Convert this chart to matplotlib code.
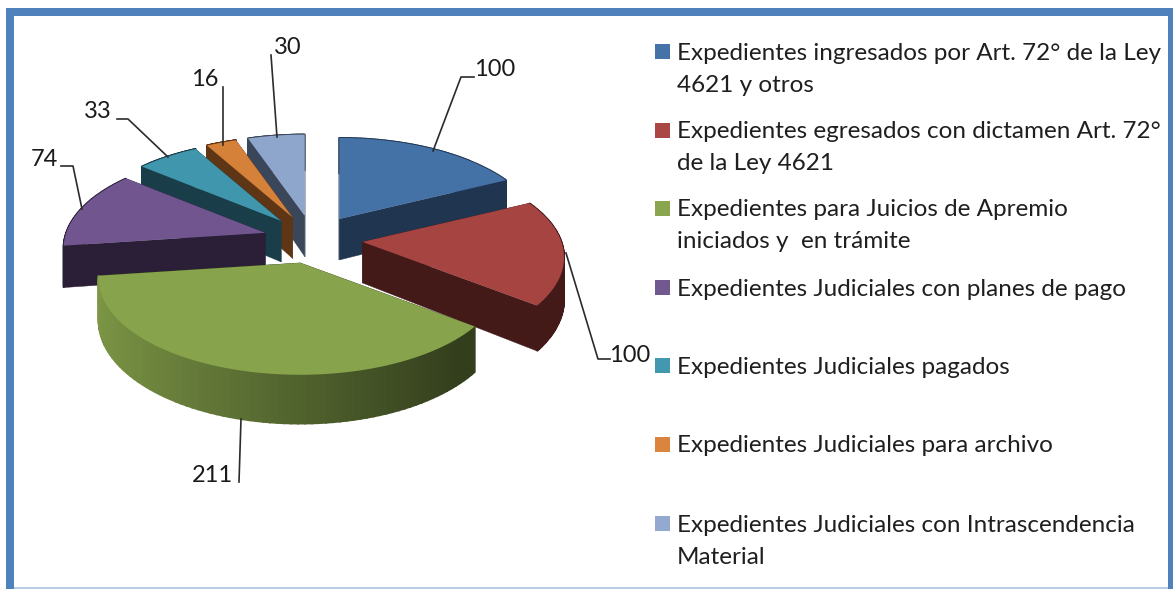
import numpy as np
import matplotlib
matplotlib.use("Agg")
import matplotlib.pyplot as plt
from matplotlib.patches import Polygon, Rectangle

plt.rcParams['font.family'] = ['Lato', 'DejaVu Sans']

# datos
categorias = ["Expedientes ingresados por Art. 72° de la Ley\n4621 y otros",
              "Expedientes egresados con dictamen Art. 72°\nde la Ley 4621",
              "Expedientes para Juicios de Apremio\niniciados y  en trámite",
              "Expedientes Judiciales con planes de pago",
              "Expedientes Judiciales pagados",
              "Expedientes Judiciales para archivo",
              "Expedientes Judiciales con Intrascendencia\nMaterial"]
valores = [100, 100, 211, 74, 33, 16, 30]

# colores
leyenda_col = ["#4572a7", "#aa4643", "#89a54e", "#71588f", "#4198af", "#db843d", "#93a9cf"]
tapa_col = ["#4471a6", "#a64442", "#87a44c", "#70558f", "#4096ad", "#d5813a", "#8ea5cc"]
lado_col = ["#1f3550", "#431a18", "#343f1b", "#2b1f38", "#1a3e49", "#5e3616", "#3a4659"]

# geometria en pixeles
W, H = 1173, 589
cx, cy = 313, 239.5      # centro del pastel
ex, ey = 49.7, 24.2      # explosion
R, Ry = 199, 94          # radios
k = 0.16                 # perspectiva
prof = 41                # espesor

fig = plt.figure(figsize=(W/100, H/100), dpi=100)
ax = fig.add_axes([0, 0, 1, 1])
ax.set_xlim(0, W)
ax.set_ylim(H, 0)
ax.axis("off")

# marco
azul = "#4f81bd"
ax.add_patch(Rectangle((14, 587), 1154, 2, color="#b8cce4", lw=0))
ax.add_patch(Rectangle((6, 8), 8, H-8, color=azul, lw=0))
ax.add_patch(Rectangle((6, 8), W-6, 8, color=azul, lw=0))
ax.add_patch(Rectangle((1168, 8), 5, H-8, color=azul, lw=0))


def punto(a, ang):
    # angulo en grados desde las 12 en sentido horario
    t = np.radians(ang)
    d = np.cos(t)
    s = 1/(1 + k*d)
    return a[0] + R*np.sin(t)*s, a[1] - Ry*d*s, prof*s


def oscurecer(c, f):
    r, g, b = matplotlib.colors.to_rgb(c)
    return (r*f, g*f, b*f)


total = sum(valores)
angs = np.cumsum([0] + valores)/total*360

# de atras hacia adelante
orden = [6, 5, 4, 3, 0, 1, 2]
for i in orden:
    a0, a1 = angs[i], angs[i+1]
    m = np.radians((a0 + a1)/2)
    apice = (cx + ex*np.sin(m), cy - ey*np.cos(m))
    arco = np.linspace(a0, a1, 80)
    P = np.array([punto(apice, a) for a in arco])

    # caras radiales
    for j in [0, -1]:
        ax.add_patch(Polygon([apice, P[j, :2], (P[j, 0], P[j, 1]+P[j, 2]),
                              (apice[0], apice[1]+prof)], color=lado_col[i], lw=0.3))
    # cara exterior
    for j in range(len(arco)-1):
        t = (np.sin(np.radians(arco[j])) + 1)/2
        if i == 2:
            f = 0.92 - 0.54*min(t/0.85, 1)
            col = oscurecer(tapa_col[i], f)
        else:
            col = lado_col[i]
        q = [P[j, :2], P[j+1, :2], (P[j+1, 0], P[j+1, 1]+P[j+1, 2]), (P[j, 0], P[j, 1]+P[j, 2])]
        ax.add_patch(Polygon(q, color=col, lw=1.3))
    # tapa
    ax.add_patch(Polygon([apice] + [tuple(p[:2]) for p in P], color=tapa_col[i], lw=0))

# guias y etiquetas
guias = [[(433, 151), (461, 77), (474, 77)],
         [(566, 253), (598, 359), (610, 359)],
         [(241, 419), (239, 482)],
         [(82, 209), (73, 166), (61, 166)],
         [(168, 157), (128, 119), (117, 119)],
         [(223, 145), (223, 87)],
         [(277, 137), (271, 55)]]
etiq_pos = [(495, 70), (630, 355), (212, 475), (44, 160), (98, 112), (205, 80), (288, 48)]
for i in range(len(valores)):
    g = np.array(guias[i])
    ax.plot(g[:, 0], g[:, 1], color="#2b2b2b", lw=1.2)
    ax.text(etiq_pos[i][0], etiq_pos[i][1], str(valores[i]), fontsize=17, color="#1a1a1a",
            ha="center", va="center")

# leyenda
ley_y = [51, 130, 208, 287, 365, 444, 523]
for i, nom in enumerate(categorias):
    ax.add_patch(Rectangle((655, ley_y[i]-7.5), 15, 15, color=leyenda_col[i], lw=0))
    for n, linea in enumerate(nom.split("\n")):
        ax.text(677, ley_y[i] + 8.5 + n*32, linea, fontsize=17.5, color="#1f1f1f",
                ha="left", va="baseline")

fig.savefig("out.png", dpi=100)
